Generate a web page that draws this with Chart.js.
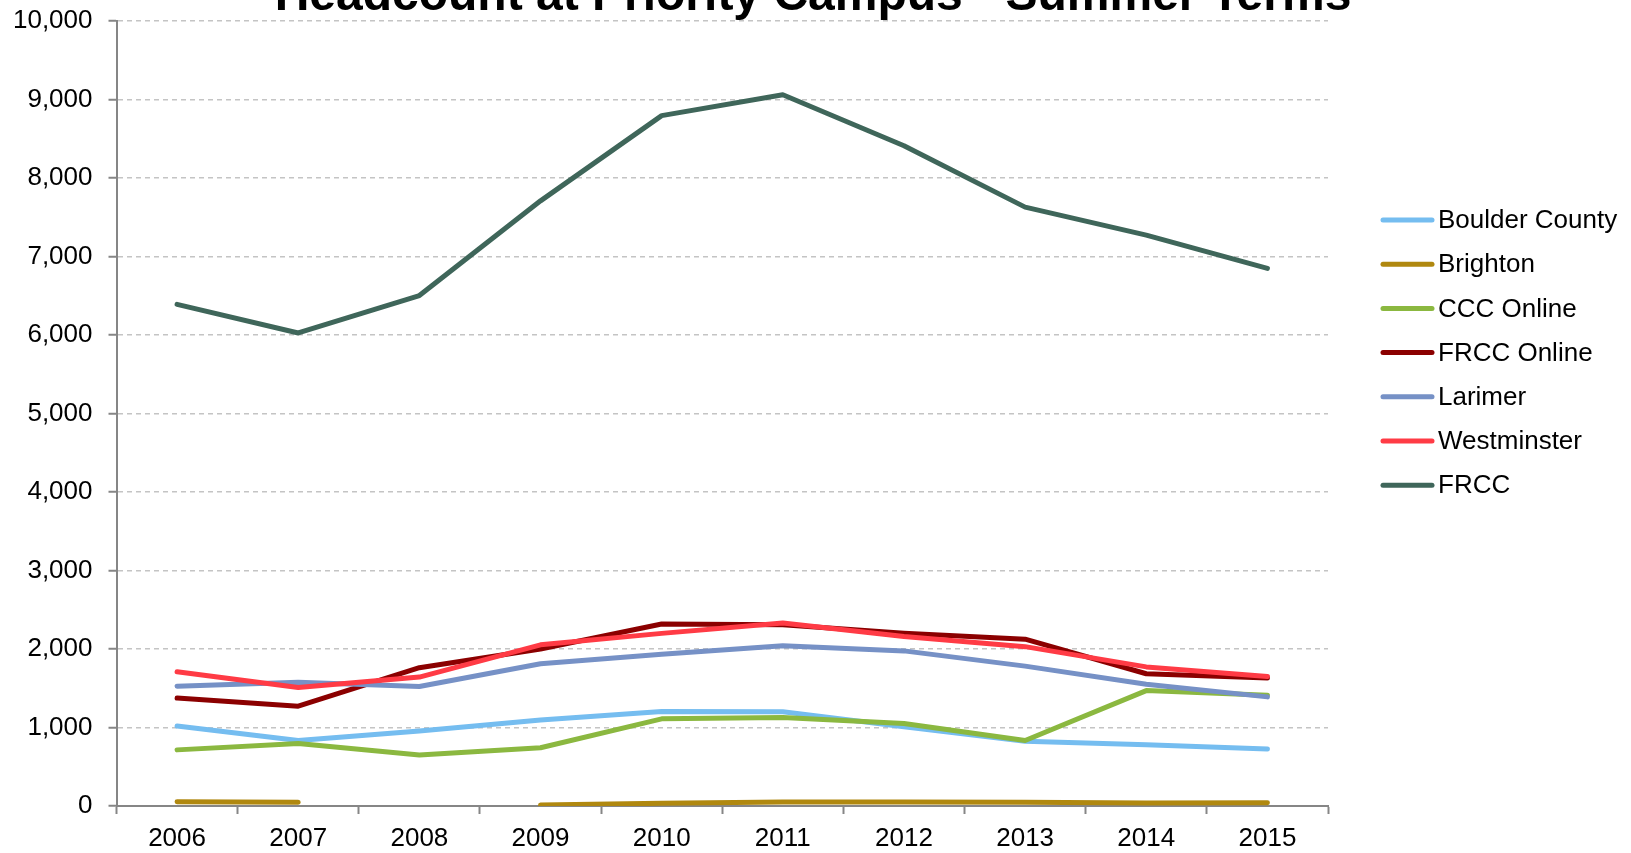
<!DOCTYPE html>
<html>
<head>
<meta charset="utf-8">
<title>Headcount at Priority Campus - Summer Terms</title>
<script src="https://cdn.jsdelivr.net/npm/chart.js@4.4.1/dist/chart.umd.min.js"></script>
<style>
  html, body { margin: 0; padding: 0; background: #fff; }
  #wrap { width: 1631px; height: 853px; }
</style>
</head>
<body>
<div id="wrap"><canvas id="headcountChart" width="1631" height="853"></canvas></div>
<script>
// Summer term headcounts by campus
const years = ['2006', '2007', '2008', '2009', '2010', '2011', '2012', '2013', '2014', '2015'];
const boulderCounty = [1020, 835, 955, 1095, 1205, 1200, 1010, 825, 780, 725];
const brighton = [55, 47, null, 13, 34, 52, 52, 48, 38, 42];
const cccOnline = [715, 795, 650, 742, 1110, 1127, 1050, 834, 1470, 1412];
const frccOnline = [1375, 1272, 1762, 2000, 2318, 2308, 2200, 2125, 1685, 1630];
const larimer = [1525, 1576, 1523, 1812, 1932, 2041, 1976, 1782, 1552, 1390];
const westminster = [1709, 1510, 1642, 2053, 2199, 2332, 2160, 2030, 1772, 1650];
const frcc = [6390, 6026, 6503, 7709, 8795, 9060, 8411, 7629, 7272, 6848];

const seriesNames = ['Boulder County', 'Brighton', 'CCC Online', 'FRCC Online', 'Larimer', 'Westminster', 'FRCC'];
const seriesValues = [boulderCounty, brighton, cccOnline, frccOnline, larimer, westminster, frcc];
const seriesColors = ['#75bdf0', '#b0880f', '#8bb840', '#8b0000', '#7691c6', '#ff3b45', '#3f665a'];

const FONT = 'Arial, "Liberation Sans", sans-serif';

// Title sits partly above the canvas edge, like the source image
const titlePlugin = {
  id: 'topTitle',
  afterDraw(chart) {
    const c = chart.ctx;
    c.save();
    c.fillStyle = '#000';
    c.font = 'bold 48px ' + FONT;
    c.textAlign = 'center';
    c.textBaseline = 'alphabetic';
    c.fillText('Headcount at Priority Campus - Summer Terms', 813, 10);
    c.restore();
  }
};

// Legend on the right, drawn from the datasets
const legendPlugin = {
  id: 'sideLegend',
  afterDraw(chart) {
    const c = chart.ctx;
    c.save();
    c.font = '26px ' + FONT;
    c.textBaseline = 'middle';
    c.textAlign = 'left';
    chart.data.datasets.forEach((ds, i) => {
      const y = 220 + i * 44.2;
      c.strokeStyle = ds.borderColor;
      c.lineWidth = 5;
      c.lineCap = 'round';
      c.beginPath();
      c.moveTo(1383, y);
      c.lineTo(1432, y);
      c.stroke();
      c.fillStyle = '#000';
      c.fillText(ds.label, 1438, y + 1);
    });
    c.restore();
  }
};

const ctx = document.getElementById('headcountChart').getContext('2d');
new Chart(ctx, {
  type: 'line',
  data: {
    labels: years,
    datasets: seriesNames.map((name, i) => ({
      label: name,
      data: seriesValues[i],
      borderColor: seriesColors[i],
      backgroundColor: seriesColors[i],
      borderWidth: 5,
      borderCapStyle: 'round',
      borderJoinStyle: 'round',
      pointRadius: 0,
      tension: 0,
      spanGaps: false,
      order: seriesNames.length - i
    }))
  },
  options: {
    responsive: false,
    animation: false,
    layout: { padding: { top: 21, right: 303, bottom: 0, left: 0 } },
    plugins: {
      legend: { display: false },
      tooltip: { enabled: false },
      title: { display: false }
    },
    scales: {
      x: {
        offset: true,
        grid: {
          offset: true,
          drawOnChartArea: false,
          drawTicks: true,
          tickLength: 8,
          tickColor: '#868686',
          tickWidth: 2
        },
        border: { color: '#868686', width: 2 },
        ticks: {
          color: '#000',
          font: { family: FONT, size: 26 },
          padding: 9,
          maxRotation: 0,
          autoSkip: false
        },
        afterFit(scale) { scale.height = 47; }
      },
      y: {
        min: 0,
        max: 10000,
        grid: {
          color: '#c4c4c4',
          lineWidth: 1.5,
          tickColor: '#868686',
          tickLength: 8,
          tickWidth: 2,
          tickBorderDash: []
        },
        border: { color: '#868686', width: 2, dash: [5, 4] },
        ticks: {
          stepSize: 1000,
          color: '#000',
          font: { family: FONT, size: 26 },
          padding: 16,
          callback: v => v.toLocaleString('en-US')
        },
        afterFit(scale) {
          scale.width = 116.5;
          scale.paddingTop = 0;
        }
      }
    }
  },
  plugins: [titlePlugin, legendPlugin]
});
</script>
</body>
</html>
